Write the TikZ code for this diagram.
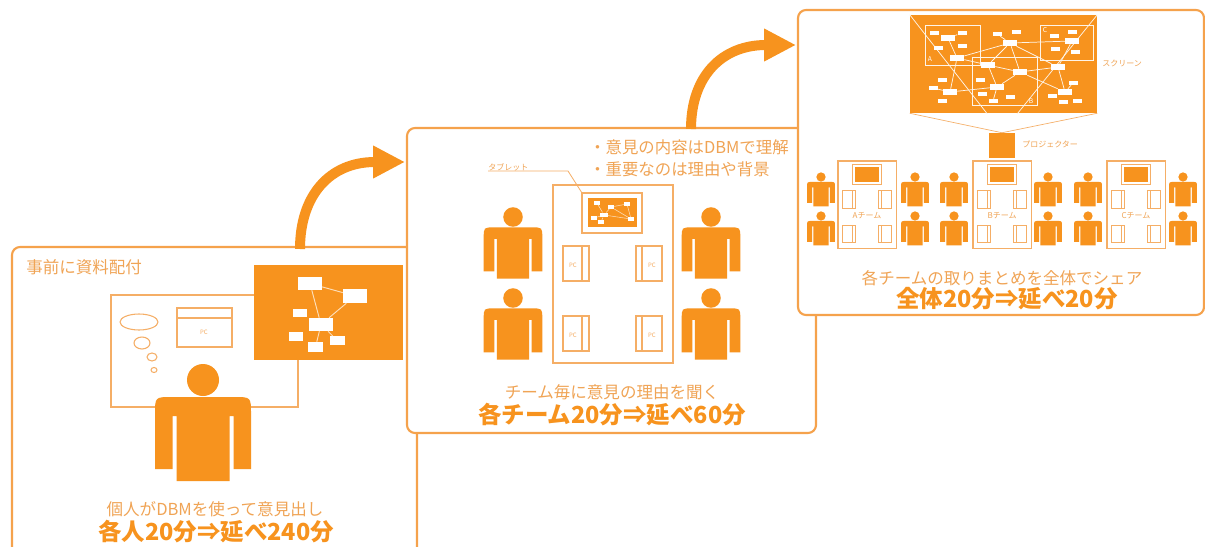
\documentclass[tikz,border=0pt]{standalone}
\usepackage{fontspec}
\setmainfont{Noto Sans CJK JP}
\usetikzlibrary{arrows.meta}

\definecolor{dbmorange}{HTML}{F7931E}
\definecolor{dbmline}{HTML}{F5AE66}
\definecolor{dbmtext}{HTML}{F0A455}
\definecolor{dbmframe}{HTML}{F5A24C}

\tikzset{
  panel/.style={draw=dbmframe, line width=1.6pt, rounded corners=6pt, fill=white},
  pcline/.style={draw=dbmline, line width=0.8pt},
  netline/.style={draw=white!70!dbmorange, line width=0.7pt},
  scrline/.style={draw=white!90!dbmorange, line width=0.55pt},
  bigarrow/.style={draw=dbmorange, line width=7.5pt, -{Triangle[length=24pt,width=23pt]}},
  title/.style={text=dbmtext, font=\fontsize{12.4}{14}\selectfont, inner sep=0pt},
  note/.style={text=dbmtext, font=\fontsize{12.3}{14}\selectfont, inner sep=0pt},
  caption/.style={text=dbmtext, font=\fontsize{12.4}{14}\selectfont, inner sep=0pt},
  total/.style={text=dbmorange, font=\bfseries\fontsize{17.6}{20}\selectfont, inner sep=0pt},
  tiny/.style={text=dbmtext, font=\fontsize{6}{7}\selectfont, inner sep=0pt},
  pclabel/.style={text=dbmline, font=\fontsize{4.5}{5}\selectfont, inner sep=0pt},
  wbox/.style 2 args={fill=white, inner sep=0pt, minimum width=#1pt, minimum height=#2pt},
  person/.pic={
    \fill[dbmorange] (0,0) circle[radius=16];
    \fill[dbmorange] (-48,89) -- (-48,34) .. controls (-48,17) .. (-31,17) -- (31,17)
      .. controls (48,17) .. (48,34) -- (48,89) -- (30.5,89) -- (30.5,36) -- (26.5,36)
      -- (26.5,101) -- (-26.5,101) -- (-26.5,36) -- (-30.5,36) -- (-30.5,89) -- cycle;
  },
  desk/.pic={
    \draw[pcline] (0,0) rectangle (120,178);
    \draw[pcline] (29,8) rectangle (89,48);
    \fill[dbmorange] (35,13) rectangle (84,42);
    \foreach \px/\py/\sx in {10/61/19, 83/61/6, 10/131/19, 83/131/6}
      \draw[pcline] (\px,\py) rectangle ++(26,35) (\px+\sx,\py) -- ++(0,35);
  }
}

\begin{document}
\begin{tikzpicture}[x=0.75pt, y=-0.75pt]
\useasboundingbox (0,0) rectangle (1205,546);

% --- step 1: each member alone
\draw[panel] (12,247) rectangle (417,560);
\node[title, anchor=west] (t1) at (26,267) {事前に資料配付};
\draw[pcline] (111,295) rectangle (298,407);
\draw[pcline] (139,322) ellipse[x radius=19, y radius=8];
\draw[pcline] (142,343) ellipse[x radius=8, y radius=6];
\draw[pcline] (152,357) ellipse[x radius=5, y radius=4];
\draw[pcline] (154,370) ellipse[x radius=3, y radius=2.5];
\draw[pcline] (177,308) rectangle (232,347) (177,318) -- (232,318);
\node[pclabel] (pc0) at (204,332) {PC};
\fill[dbmorange] (254,265) rectangle (403,360);
\foreach \n/\x/\y/\w/\h in {q1/310/283.5/18/9.75, q2/355/296/18/10.5, q4/321/324.5/18/9.75,
    q3/300/313/10.5/6.5, q5/296/336.5/10.5/6.75, q6/337.5/340.5/11/6.75, q7/315.5/347/11/7.5}
  \node[wbox={\w}{\h}] (\n) at (\x,\y) {};
\foreach \a/\b in {q1/q4, q1/q2, q2/q4, q4/q7, q4/q6}
  \draw[netline] (\a) -- (\b);
\pic at (203,380) {person};
\node[caption] (c1) at (215,509) {個人がDBMを使って意見出し};
\node[total] (s1) at (216,532) {各人20分⇒延べ240分};

\coordinate (a1) at (300,249);
\coordinate (a1tip) at (405,162);
\draw[bigarrow] (a1) .. controls (300,195) and (330,162) .. (a1tip);

% --- step 2: inside each team
\draw[panel] (407,128) rectangle (816,433);
\node[note, anchor=west] (n1) at (589,147) {・意見の内容はDBMで理解};
\node[note, anchor=west] (n2) at (589,169) {・重要なのは理由や背景};
\pic at (553,185) {desk};
\foreach \n/\x/\y/\w/\h in {r1/597/203/4.5/2.6, r2/611/207/4.5/2.6, r3/627/204/4.5/2.6,
    r4/604/215/5.5/3.5, r5/594/218/4/2.6, r6/631/219/4.5/2.6, r7/601/222/4/2.6}
  \node[wbox={\w}{\h}] (\n) at (\x,\y) {};
\foreach \a/\b in {r1/r4, r4/r2, r2/r3, r2/r6, r3/r6, r4/r6, r4/r5, r4/r7}
  \draw[netline, line width=0.4pt] (\a) -- (\b);
\foreach \n/\x/\y in {pc1/573/265, pc2/652/265, pc3/573/335, pc4/652/335}
  \node[pclabel] (\n) at (\x,\y) {PC};
\node[tiny, anchor=south west] (tablbl) at (488,171) {タブレット};
\coordinate (tab) at (582,193);
\draw[pcline, line width=0.6pt] (tablbl.south west) -- ++(80,0) -- (tab);
\foreach \x/\y in {513/217, 513/298, 711/217, 711/298}
  \pic[scale=0.61] at (\x,\y) {person};
\node[caption] (c2) at (612,392) {チーム毎に意見の理由を聞く};
\node[total] (s2) at (612,415) {各チーム20分⇒延べ60分};

\coordinate (a2) at (691,129);
\coordinate (a2tip) at (796,45);
\draw[bigarrow] (a2) .. controls (691,76) and (722,45) .. (a2tip);

% --- step 3: everyone together
\draw[panel] (798,10) rectangle (1204,315);
\node[fill=dbmorange, inner sep=0pt, minimum width=140.25pt, minimum height=73.5pt] (scr) at (1003.5,64) {};
\node[fill=dbmorange, inner sep=0pt, minimum width=19.5pt, minimum height=18.75pt] (proj) at (1002,145.5) {};
\draw[pcline, line width=0.5pt] (proj.north) -- (scr.south west) (proj.north) -- (scr.south east);
\begin{scope}
  \clip (scr.south west) rectangle (scr.north east);
  \draw[scrline] (proj.north) -- (scr.north west) (proj.north) -- (scr.north east);
  \draw[scrline] (925,25) rectangle (980,65) (972,57) rectangle (1037,105) (1040,25) rectangle (1093,60);
  \foreach \n/\x/\y in {s1/948/38, s2/957/58, s3/1010/43, s4/1072/41, s5/988/65,
      s6/1020/72, s7/1058/67, s8/997/87, s9/950/92, s10/1065/92}
    \node[wbox={10.5}{4.5}] (\n) at (\x,\y) {};
  \foreach \n/\x/\y in {u1/934/33, u2/962/33, u3/938/48, u4/962/46, u5/997/34, u6/1016/32,
      u7/1054/36, u8/1072/32, u9/1055/49, u10/1075/52, u11/980/80, u12/982/94, u13/993/101,
      u14/1010/97, u15/1073/83, u16/1052/96, u17/1063/102, u18/1077/101, u19/942/80,
      u20/933/88, u21/942/101}
    \node[wbox={6.75}{3}] (\n) at (\x,\y) {};
  \foreach \a/\b in {s1/s2, s2/s3, s3/s5, s3/s6, s3/s7, s3/s4, s5/s6, s6/s7, s2/s5, s2/s9,
      s5/s8, s6/s8, s7/s10, s4/s7, s9/s8, s6/s10, s1/u2, s3/u5, s8/u13, s10/u15, s9/u20}
    \draw[scrline] (\a) -- (\b);
  \node[text=white, font=\fontsize{5}{5}\selectfont, inner sep=0pt] (ga) at (930,59) {A};
  \node[text=white, font=\fontsize{5}{5}\selectfont, inner sep=0pt] (gb) at (1031,101) {B};
  \node[text=white, font=\fontsize{5}{5}\selectfont, inner sep=0pt] (gc) at (1045,30) {C};
\end{scope}
\node[tiny, anchor=west] (scrlbl) at (1102,63) {スクリーン};
\node[tiny, anchor=west] (projlbl) at (1022,144) {プロジェクター};
\foreach \x/\t in {838/A, 973/B, 1107/C} {
  \pic[scale=0.49] at (\x,161) {desk};
  \node[tiny] (team\t) at (\x+29,216) {\t チーム};
}
\foreach \x in {821, 915, 954, 1048, 1088, 1183}
  \foreach \y in {177, 216}
    \pic[scale=0.29] at (\x,\y) {person};
\node[caption] (c3) at (1002,278) {各チームの取りまとめを全体でシェア};
\node[total] (s3) at (1007,299) {全体20分⇒延べ20分};
\end{tikzpicture}
\end{document}
